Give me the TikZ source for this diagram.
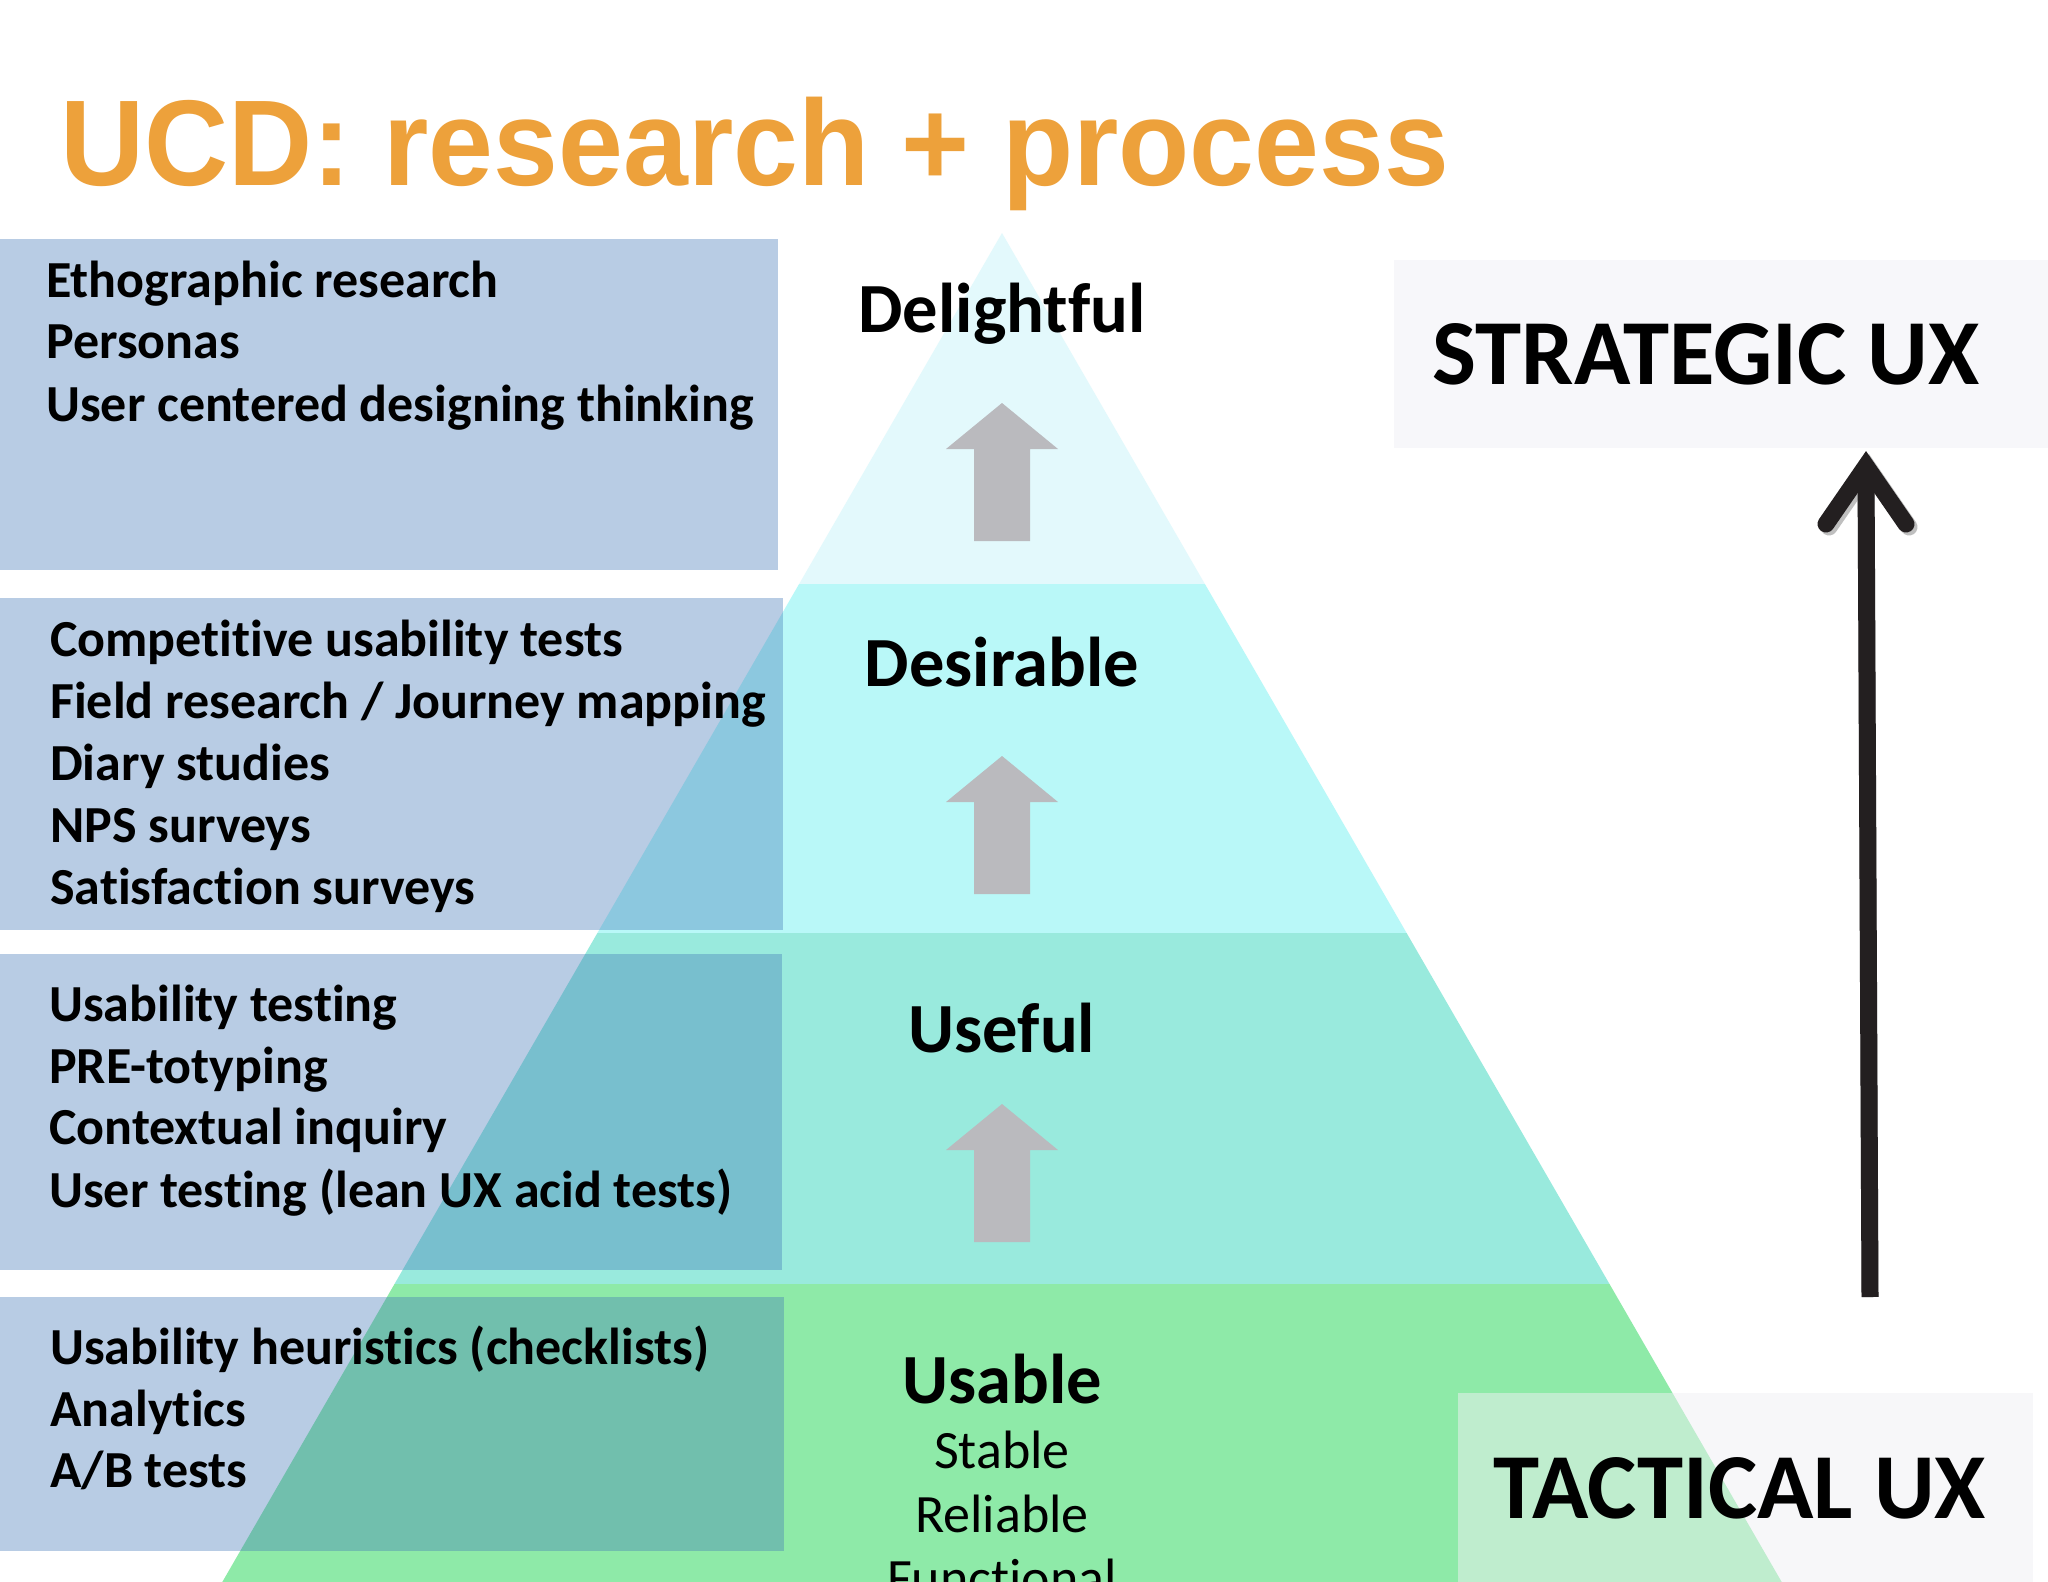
\documentclass[tikz,border=0pt]{standalone}
\usepackage{fontspec}
\setmainfont{Carlito}[RawFeature={-liga;-clig;-calt;-dlig;-rlig}]
\newfontfamily\titlefont{Liberation Sans}
\definecolor{bandA}{RGB}{227,249,252}
\definecolor{bandB}{RGB}{185,248,248}
\definecolor{bandC}{RGB}{153,234,221}
\definecolor{bandD}{RGB}{142,234,168}
\definecolor{boxblue}{RGB}{64,118,182}
\definecolor{garrow}{RGB}{186,186,190}
\definecolor{titleorange}{RGB}{237,161,59}
\definecolor{uxbox}{RGB}{247,247,250}
\definecolor{uxboxt}{RGB}{240,240,245}
\definecolor{darkarrow}{RGB}{35,31,32}
\begin{document}
\begin{tikzpicture}[x=1pt,y=-1pt,
  listtext/.style={anchor=base west, inner sep=0pt, font=\bfseries\fontsize{52}{62}\selectfont},
  levellabel/.style={anchor=base, inner sep=0pt, font=\bfseries\fontsize{70.5}{80}\selectfont},
  sublabel/.style={anchor=base, inner sep=0pt, font=\fontsize{54}{64}\selectfont},
  uxlabel/.style={anchor=base, inner sep=0pt, font=\bfseries\fontsize{93}{100}\selectfont},
  researchbox/.style={fill=boxblue, fill opacity=0.37},
  uparrow/.pic={\fill[garrow] (0,0) -- (56,46) -- (28,46) -- (28,138) -- (-28,138) -- (-28,46) -- (-56,46) -- cycle;}
]
% canvas
\fill[white] (0,0) rectangle (2048,1582);
\useasboundingbox (0,0) rectangle (2048,1582);

% title
\node[anchor=base west, inner sep=0pt, text=titleorange, font=\titlefont\bfseries\fontsize{122}{130}\selectfont] (title) at (60,185) {\scalebox{0.955}[1]{UCD: research + process}};

% pyramid bands
\fill[bandA] (1002,233) -- (1204.9,584) -- (799.1,584) -- cycle;
\fill[bandB] (799.1,584) -- (1204.9,584) -- (1406.6,933) -- (597.4,933) -- cycle;
\fill[bandC] (597.4,933) -- (1406.6,933) -- (1609.5,1284) -- (394.5,1284) -- cycle;
\fill[bandD] (394.5,1284) -- (1609.5,1284) -- (1781.7,1582) -- (222.3,1582) -- cycle;

% gray arrows
\pic at (1002,403) {uparrow};
\pic at (1002,756) {uparrow};
\pic at (1002,1104) {uparrow};

% level labels
\node[levellabel] (delightful) at (1002,332) {Delightful};
\node[levellabel] (desirable) at (1002,686) {Desirable};
\node[levellabel] (useful) at (1002,1052) {Useful};
\node[levellabel] (usable) at (1002,1403) {Usable};
\node[sublabel] (stable) at (1002,1468) {Stable};
\node[sublabel] (reliable) at (1002,1532) {Reliable};
\node[sublabel] (functional) at (1002,1596) {Functional};

% research boxes
\fill[researchbox] (0,239) rectangle (778,570);
\fill[researchbox] (0,598) rectangle (783,930);
\fill[researchbox] (0,954) rectangle (782,1270);
\fill[researchbox] (0,1297) rectangle (784,1551);

\node[listtext] (r1a) at (46,297) {Ethographic research};
\node[listtext] (r1b) at (46,358) {Personas};
\node[listtext] (r1c) at (46,421) {User centered designing thinking};

\node[listtext] (r2a) at (50,656) {Competitive usability tests};
\node[listtext] (r2b) at (50,718) {Field research / Journey mapping};
\node[listtext] (r2c) at (50,780) {Diary studies};
\node[listtext] (r2d) at (50,842) {NPS surveys};
\node[listtext] (r2e) at (50,904) {Satisfaction surveys};

\node[listtext] (r3a) at (49,1021) {Usability testing};
\node[listtext] (r3b) at (49,1083) {PRE-totyping};
\node[listtext] (r3c) at (49,1144) {Contextual inquiry};
\node[listtext] (r3d) at (49,1207) {User testing (lean UX acid tests)};

\node[listtext] (r4a) at (50,1364) {Usability heuristics (checklists)};
\node[listtext] (r4b) at (50,1426) {Analytics};
\node[listtext] (r4c) at (50,1487) {A/B tests};

% UX boxes
\fill[uxbox] (1394,260) rectangle (2048,448);
\node[uxlabel] (strategic) at (1706,384) {STRATEGIC UX};
\fill[uxboxt, fill opacity=0.5] (1458,1393) rectangle (2033,1582);
\node[uxlabel] (tactical) at (1740,1518) {TACTICAL UX};

% black arrow from tactical to strategic
\coordinate (arrowBottom) at (1870,1297);
\coordinate (arrowTop) at (1866,470);
\begin{scope}[shift={(3,3)}]
\draw[black!25, line width=17pt] (arrowBottom) -- (arrowTop);
\draw[black!25, line width=17pt, line cap=round, line join=miter] (1826,524) -- (1866,466) -- (1906,524);
\end{scope}
\draw[darkarrow, line width=17pt] (arrowBottom) -- (arrowTop);
\draw[darkarrow, line width=17pt, line cap=round, line join=miter] (1826,524) -- (1866,466) -- (1906,524);
\end{tikzpicture}
\end{document}
